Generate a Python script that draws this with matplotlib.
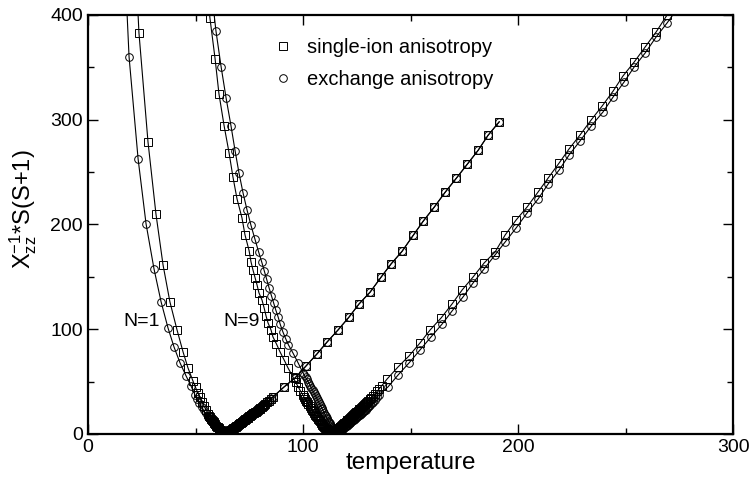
import numpy as np
import matplotlib
matplotlib.use("Agg")
import matplotlib.pyplot as plt

plt.rcParams["font.family"] = ["Liberation Sans", "DejaVu Sans"]
plt.rcParams["mathtext.fontset"] = "custom"
plt.rcParams["mathtext.rm"] = "Liberation Sans"
plt.rcParams["mathtext.it"] = "Liberation Sans"

# N=1, descending branches (single-ion = squares, exchange = circles)
t_sq1 = [19.5, 23.7, 27.9, 31.6, 34.9, 38.1, 41.4, 44.2, 46.5, 48.8, 50.0, 51.0, 52.0, 53.0, 54.0,
         55.0, 56.0, 56.4, 56.8, 57.2, 57.6, 58.0, 58.4, 58.8, 59.2, 59.6, 60.0, 60.35, 60.7, 61.05,
         61.4, 61.75, 62.1, 62.45, 62.8, 63.15, 63.5, 63.85, 64.2]
y_sq1 = [560, 382.8, 278.8, 210, 161.3, 126, 99.3, 78.3, 63, 50.6, 44.5, 39.5, 35, 30.5, 26.5,
         22.5, 19, 17.5, 16, 14.7, 13.5, 12.2, 11, 10, 9, 8, 7, 6.2, 5.5, 4.7,
         4, 3.5, 3, 2.5, 2, 1.6, 1.3, 1.1, 1]
t_ci1 = [15.5, 19.1, 23.3, 27.0, 30.7, 34.0, 37.2, 40.0, 42.8, 45.6, 47.9, 49.8, 50.8, 51.8, 52.8,
         53.8, 54.8, 55.8, 56.25, 56.7, 57.15, 57.6, 58.0, 58.4, 58.8, 59.2, 59.6, 60.0, 60.4, 60.8,
         61.2, 61.6, 62.0, 62.4, 62.8, 63.2, 63.6, 64.0]
y_ci1 = [520, 359.9, 262.5, 200.5, 157.5, 126, 101.2, 83, 67.8, 55.4, 45.8, 37.2, 33, 29.5, 26,
         22.5, 19.5, 16.5, 15.2, 14, 12.7, 11.5, 10.5, 9.5, 8.5, 7.5, 6.7, 6, 5.2, 4.5,
         3.9, 3.3, 2.8, 2.3, 1.9, 1.5, 1.2, 1]
# N=1, rising branch (both anisotropies fall on top of each other)
t_up1 = [64.4, 64.8, 65.15, 65.5, 65.85, 66.2, 66.55, 66.9, 67.25, 67.6, 67.95, 68.3, 68.65, 69.0,
         69.35, 69.7, 70.05, 70.4, 70.75, 71.1, 71.45, 71.8, 72.15, 72.5, 72.85, 73.2, 73.55, 73.9,
         74.25, 74.6, 74.95, 75.3, 75.65, 76.0, 76.4, 76.8, 77.2, 77.6, 78.0, 78.4, 78.85, 79.3,
         79.75, 80.2, 80.7, 81.2, 81.85, 82.5, 83.2, 84.0, 85.0, 86.0, 91.2, 96.3, 101.4, 106.5,
         111.2, 116.3, 121.4, 126.0, 131.2, 136.3, 140.9, 146.0, 151.2, 155.8, 160.9, 166.0, 171.2,
         176.3, 181.4, 186.0, 191.2]
y_up1 = [1.2, 1.5, 2, 2.5, 3, 3.5, 4, 4.5, 5, 5.5, 6, 6.5, 7, 7.5,
         8, 8.5, 9, 9.6, 10.1, 10.7, 11.2, 11.8, 12.3, 12.9, 13.4, 14, 14.5, 15.1,
         15.6, 16.2, 16.7, 17.3, 17.8, 18.4, 19, 19.6, 20.2, 20.8, 21.4, 22, 22.7, 23.4,
         24.1, 24.9, 25.7, 26.5, 27.6, 28.7, 30, 31.5, 33.3, 35.3, 44.9, 53.5, 64.9, 76.4,
         87.8, 99.3, 111.6, 124, 135.4, 149.7, 162.2, 174.2, 189.5, 202.9, 216.2, 230.5, 243.9,
         257.3, 270.7, 285, 297.9]

# N=9, single-ion anisotropy
t_sq9 = [54.5, 56.7, 59.1, 60.9, 63.3, 65.6, 67.4, 69.3, 71.6, 73.0, 74.9, 75.8, 76.7, 77.7, 78.6,
         79.5, 80.9, 81.9, 82.8, 83.7, 85.1, 86.0, 87.6, 89.3, 91.2, 93.0, 95.3, 96.5, 97.7, 98.8,
         99.9, 100.45, 101.0, 101.5, 102.0, 102.5, 103.0, 103.5, 104.0, 104.5, 105.0, 105.45, 105.9,
         106.35, 106.8, 107.25, 107.7, 108.15, 108.6, 109.0, 109.4, 109.8, 110.2, 110.6, 111.0,
         111.4, 111.8, 112.2, 112.6, 113.0, 113.4, 113.8, 114.2, 114.6, 115.0, 115.4, 115.8, 116.2,
         116.6, 117.0, 117.4, 117.8, 118.2, 118.6, 119.0, 119.4, 119.8, 120.2, 120.6, 121.0, 121.4,
         121.8, 122.2, 122.6, 123.0, 123.4, 123.8, 124.2, 124.6, 125.0, 125.4, 125.8, 126.2, 126.6,
         127.0, 127.45, 127.9, 128.35, 128.8, 129.3, 129.8, 130.4, 131.0, 131.8, 132.6, 133.5, 134.4,
         135.5, 136.6, 139.1, 144.2, 149.3, 154.4, 159.1, 164.2, 169.3, 174.0, 179.1, 184.2, 189.3,
         194.0, 199.1, 204.2, 209.3, 214.0, 219.1, 223.7, 228.8, 234.0, 239.1, 244.2, 248.8, 254.0,
         259.1, 264.2, 269.3, 274.4]
y_sq9 = [445, 397, 358, 324.6, 294, 268.3, 245.3, 224.3, 206.2, 190, 175, 164.2, 156.6, 148.9, 142.2,
         134.6, 127.9, 120.3, 112.6, 106, 99.3, 92.6, 86, 78.3, 70.6, 63, 54.4, 49.5, 45, 41,
         37, 35.2, 33.5, 31.7, 30, 28.2, 26.5, 24.7, 23, 21.5, 20, 18.5, 17,
         15.7, 14.5, 13.2, 12, 10.7, 9.5, 8.5, 7.5, 6.5, 5.5, 4.7, 4,
         3.3, 2.7, 2.2, 1.8, 1.5, 1.2, 1.3, 1.5, 2.1, 2.8, 3.5, 4.2, 4.9,
         5.6, 6.3, 7.0, 7.7, 8.5, 9.2, 10, 10.7, 11.5, 12.2, 13, 13.7, 14.5,
         15.2, 16, 16.7, 17.5, 18.2, 19, 19.7, 20.5, 21.2, 22, 22.7, 23.5, 24.2,
         25, 25.9, 26.8, 27.7, 28.6, 29.6, 30.6, 31.8, 33, 34.7, 36.5, 38.5, 40.5,
         43.2, 46, 52.5, 64, 74.5, 86.9, 99.3, 110.7, 124.1, 137.5, 149.9, 163.2, 173.7,
         190, 204.3, 216.7, 231, 244.4, 258.7, 272.1, 285.4, 299.8, 313.1, 327.4, 341.8, 355.1,
         369.5, 383.8, 400, 415]

# N=9, exchange anisotropy
t_ci9 = [57.3, 59.5, 61.9, 64.2, 66.5, 68.4, 70.2, 72.1, 73.95, 75.8, 77.6, 79.3, 80.8, 82.0, 83.1,
         84.2, 85.3, 86.3, 87.3, 88.4, 89.4, 90.6, 91.9, 93.2, 95.3, 97.7, 100.0, 100.6, 101.2,
         101.75, 102.3, 102.85, 103.4, 103.9, 104.4, 104.9, 105.4, 105.9, 106.4, 106.85, 107.3,
         107.75, 108.2, 108.6, 109.0, 109.4, 109.8, 110.2, 110.6, 110.95, 111.3, 111.65, 112.0,
         112.35, 112.7, 113.05, 113.4, 113.7, 114.0, 114.3, 114.6, 114.9, 115.2, 115.5, 115.8,
         116.1, 116.4, 116.8, 117.2, 117.6, 118.0, 118.4, 118.8, 119.2, 119.6, 120.0, 120.4, 120.8,
         121.2, 121.6, 122.0, 122.4, 122.8, 123.2, 123.6, 124.0, 124.4, 124.8, 125.2, 125.6, 126.0,
         126.4, 126.8, 127.25, 127.7, 128.15, 128.6, 129.1, 129.6, 130.15, 130.7, 131.35, 132.0,
         132.75, 133.5, 134.4, 135.3, 139.5, 144.2, 149.3, 154.4, 159.5, 164.7, 169.3, 174.4, 179.1,
         184.2, 189.3, 194.0, 199.1, 204.2, 209.3, 214.0, 219.1, 223.7, 228.8, 234.0, 239.5, 244.2,
         249.3, 254.0, 259.1, 264.2, 269.3, 274.4]
y_ci9 = [425, 384.7, 350.4, 320.8, 294, 270.2, 249.2, 230, 213.8, 199, 186, 174, 164, 155.5, 147.5,
         139.4, 132, 125, 118.4, 111.7, 104.5, 97.5, 91, 85, 77.3, 67.8, 58.2, 56, 54,
         52, 50, 48, 46, 44, 42, 40, 38, 36, 34, 32.2, 30.5,
         28.7, 27, 25.2, 23.5, 21.7, 20, 18.5, 17, 15.5, 14, 12.7, 11.5,
         10.2, 9, 8, 7, 6, 5, 4.2, 3.5, 2.8, 2.2, 1.8, 1.5,
         1.4, 1.5, 2.1, 2.8, 3.4, 4.1, 4.7, 5.4, 6, 6.7, 7.3, 8, 8.7,
         9.4, 10.1, 10.8, 11.5, 12.2, 12.9, 13.6, 14.3, 15, 15.7, 16.4, 17.1, 17.8,
         18.5, 19.2, 20, 20.8, 21.6, 22.4, 23.3, 24.3, 25.4, 26.5, 27.8, 29.2,
         30.8, 32.5, 34.8, 37.2, 44.9, 56.3, 67.8, 80.2, 92.6, 105, 117.4, 130.8, 144.2,
         157.5, 170.9, 183.3, 196.7, 211, 224.3, 238.7, 252, 266.3, 279.7, 294, 307.4, 321.7,
         336, 350.4, 363.7, 379, 392.4, 407]

labels = ["single-ion anisotropy", "exchange anisotropy"]

fig = plt.figure(figsize=(7.52, 4.8), dpi=100)
ax = fig.add_axes([0.117, 0.096, 0.858, 0.873])

line_kw = dict(color='k', linewidth=0.8, zorder=2)
mk_kw = dict(linestyle='none', markerfacecolor='none', markeredgecolor='k',
             markeredgewidth=0.7, markersize=5.5, zorder=3)

# N=1
t1s = t_sq1 + t_up1
y1s = y_sq1 + y_up1
t1c = t_ci1 + t_up1
y1c = y_ci1 + y_up1
ax.plot(t1s, y1s, **line_kw)
ax.plot(t1c, y1c, **line_kw)
ax.plot(t1s, y1s, marker='s', **mk_kw)
ax.plot(t1c, y1c, marker='o', **mk_kw)

# N=9
ax.plot(t_sq9, y_sq9, **line_kw)
ax.plot(t_ci9, y_ci9, **line_kw)
ax.plot(t_sq9, y_sq9, marker='s', label=labels[0], **mk_kw)
ax.plot(t_ci9, y_ci9, marker='o', label=labels[1], **mk_kw)

ax.text(16.3, 107, "N=1", fontsize=14, va='center', ha='left')
ax.text(62.8, 107, "N=9", fontsize=14, va='center', ha='left')

ax.set_xlim(0, 300)
ax.set_ylim(0, 400)
ax.set_xticks(np.arange(0, 301, 100))
ax.set_xticks(np.arange(0, 301, 50), minor=True)
ax.set_yticks(np.arange(0, 401, 100))
ax.set_yticks(np.arange(0, 401, 50), minor=True)
ax.tick_params(which='both', direction='in', top=True, right=True, labelsize=14, width=1.0)
ax.tick_params(which='major', length=7)
ax.tick_params(which='minor', length=4)
for s in ax.spines.values():
    s.set_linewidth(1.6)

ax.set_xlabel("temperature", fontsize=17.5, labelpad=-3)
ax.set_ylabel("X$_{zz}^{-1}$*S(S+1)", fontsize=17)
ax.yaxis.set_label_coords(-0.076, 0.536)

ax.legend(loc='upper left', bbox_to_anchor=(0.274, 0.965), frameon=False, fontsize=14.5,
          handlelength=1.0, handletextpad=0.7, labelspacing=0.65, borderaxespad=0)

fig.savefig("out.png", dpi=100)
